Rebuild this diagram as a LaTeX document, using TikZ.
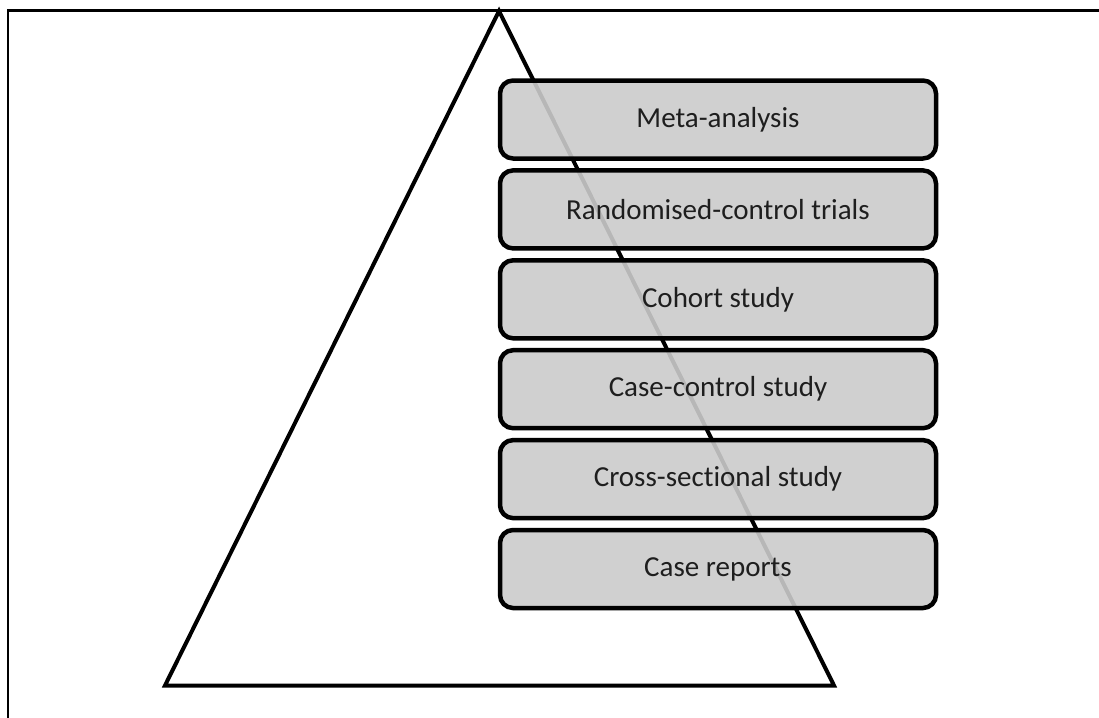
\documentclass[tikz,border=0pt]{standalone}
\usepackage{fontspec}
\setmainfont[Ligatures={NoCommon}]{Carlito}
\begin{document}
\begin{tikzpicture}[x=1pt,y=-1pt,
  level/.style={draw=black, line width=4.5pt, rounded corners=13pt,
    fill={rgb,255:red,203;green,203;blue,203}, fill opacity=0.9, text opacity=1,
    minimum width=436pt, minimum height=78pt, inner sep=0pt,
    font=\fontsize{29}{33}\selectfont, text={rgb,255:red,30;green,30;blue,30}},
  frame/.style={draw=black, line width=2.6pt},
  pyr/.style={draw=black, line width=4pt, line join=miter}]
\useasboundingbox (0,0) rectangle (1099,717);
\begin{scope}
\clip (0,0) rectangle (1099,717);
\draw[frame] (8,740) -- (8,10.3) -- (1120,10.3);
\end{scope}
\coordinate (apex) at (499,11);
\coordinate (bl) at (165,685.5);
\coordinate (br) at (834,685.5);
\draw[pyr] (apex) -- (bl) -- (br) -- cycle;
\node[level] (b1) at (718,119.5) {Meta-analysis};
\node[level] (b2) at (718,209.4) {Randomised-control trials};
\node[level] (b3) at (718,299.3) {Cohort study};
\node[level] (b4) at (718,389.2) {Case-control study};
\node[level] (b5) at (718,479.1) {Cross-sectional study};
\node[level] (b6) at (718,569) {Case reports};
\end{tikzpicture}
\end{document}
